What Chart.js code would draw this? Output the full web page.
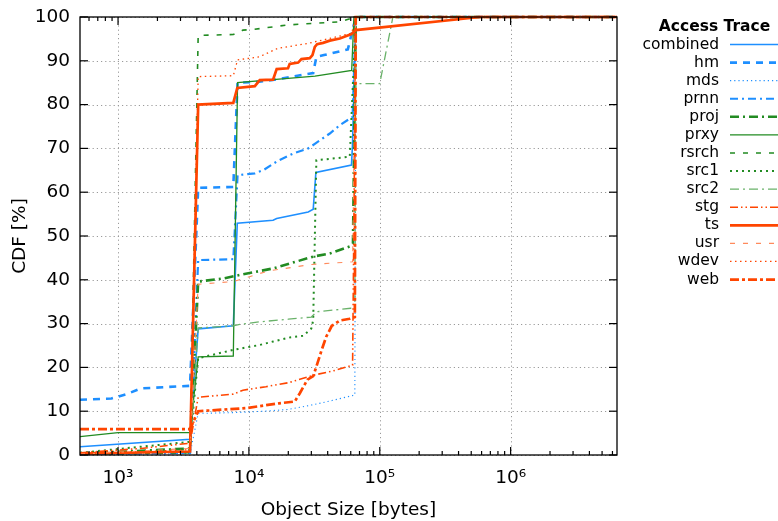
<!DOCTYPE html>
<html><head><meta charset="utf-8">
<script src="https://cdn.jsdelivr.net/npm/chart.js@4.4.1/dist/chart.umd.min.js"></script>
<style>html,body{margin:0;padding:0;background:#fff;}#wrap{width:778px;height:521px;}</style>
</head><body><div id="wrap"><canvas id="c" width="778" height="521"></canvas></div>
<script>
// ---------------- data ----------------
const seriesNames = ['combined','hm','mds','prnn','proj','prxy','rsrch','src1','src2','stg','ts','usr','wdev','web'];
const yTicks = [0,10,20,30,40,50,60,70,80,90,100];
const xTicks = [1e3,1e4,1e5,1e6];
const xTickLabels = ['10\u00B3','10\u2074','10\u2075','10\u2076'];
const xMin = 512, xMax = 6500000;

const combinedSize = [512,3550,4096,7600,8150,15300,16300,28400,31000,32500,60800,61900,65536,6500000];
const combinedCdf  = [1.9,3.6,28.8,29.5,52.9,53.6,54.0,55.5,56.1,64.5,66.2,70.8,100,100];

const hmSize = [512,890,1160,1500,3550,4096,7600,8192,12000,16600,28000,31000,32768,37500,57000,65536,6500000];
const hmCdf  = [12.6,12.9,13.9,15.2,15.8,61.0,61.2,85.0,85.2,85.8,87.0,87.2,90.9,91.3,92.6,100,100];

const mdsSize = [512,3550,4096,8192,13000,20000,30000,40000,55000,64500,65536,6500000];
const mdsCdf  = [0.1,0.3,9.5,9.7,10.0,10.4,11.4,12.2,13.2,13.7,100,100];

const prnnSize = [512,3550,4096,7600,8192,11100,13000,16300,22000,28400,32500,41500,49500,62000,65536,6500000];
const prnnCdf  = [0.2,0.5,44.5,44.7,63.9,64.3,65.1,67.0,68.9,70.0,71.2,73.4,75.3,77.2,100,100];

const projSize = [512,3550,4096,6400,8500,15300,31000,41500,59000,62400,65536,6500000];
const projCdf  = [0.3,1.5,39.6,40.3,41.1,42.6,45.3,46.0,47.6,48.3,100,100];

const prxySize = [512,1000,3550,4096,7600,8192,32000,61000,63500,6500000];
const prxyCdf  = [4.2,5.1,5.1,22.4,22.6,85.0,86.5,87.8,100,100];

const rsrchSize = [512,3550,4096,7600,9000,11000,20000,50000,65536,6500000];
const rsrchCdf  = [0.2,0.5,95.8,96.0,97.0,97.2,98.2,98.9,100,100];

const src1Size = [512,3550,4096,7600,12000,15300,21000,26000,30000,31000,32768,59000,65536,6500000];
const src1Cdf  = [0.5,3.0,22.1,24.0,25.1,25.9,26.9,27.2,28.9,30.8,67.3,68.1,100,100];

const src2Size = [512,3550,4096,7600,8500,12000,20000,30000,33000,60000,64500,65536,100000,126000,6500000];
const src2Cdf  = [0.3,1.0,29.0,29.5,29.8,30.4,31.0,31.5,32.7,33.5,33.5,84.8,84.8,100,100];

const stgSize = [512,1500,3550,4096,7600,9000,13500,20000,26000,32000,44000,62000,65536,6500000];
const stgCdf  = [0.5,1.5,2.7,13.2,13.9,14.8,15.6,16.5,17.5,18.3,19.2,20.5,100,100];

const tsSize = [512,3550,4096,7600,8150,11100,12100,15300,16300,19900,20500,23800,25200,29200,30600,31900,33200,36900,41500,49500,60800,65536,580000,6500000];
const tsCdf  = [0.3,0.8,80.0,80.4,83.8,84.2,85.6,85.7,88.1,88.3,89.3,89.6,90.4,90.6,91.3,93.2,93.8,94.1,94.6,95.1,96.1,97.0,100,100];

const usrSize = [512,3550,4096,7600,14000,30000,62000,65536,6500000];
const usrCdf  = [0.2,1.5,39.0,39.6,42.0,43.5,44.1,100,100];

const wdevSize = [512,3550,4096,7600,8192,12000,16500,28400,41500,61000,65536,6500000];
const wdevCdf  = [0.2,1.2,86.4,86.6,90.2,90.9,92.8,94.0,95.1,96.3,100,100];

const webSize = [512,3550,4096,9500,17000,22400,24500,28000,31000,32800,36000,39000,43000,49500,59000,64500,65536,6500000];
const webCdf  = [5.9,5.9,10.0,10.7,11.8,12.2,14.1,17.2,18.0,20.2,24.0,27.0,29.5,30.7,31.1,31.5,100,100];

const seriesData = {
  combined:[combinedSize,combinedCdf], hm:[hmSize,hmCdf], mds:[mdsSize,mdsCdf], prnn:[prnnSize,prnnCdf],
  proj:[projSize,projCdf], prxy:[prxySize,prxyCdf], rsrch:[rsrchSize,rsrchCdf], src1:[src1Size,src1Cdf],
  src2:[src2Size,src2Cdf], stg:[stgSize,stgCdf], ts:[tsSize,tsCdf], usr:[usrSize,usrCdf],
  wdev:[wdevSize,wdevCdf], web:[webSize,webCdf]
};

// ---------------- styles ----------------
const BLUE = '#1e8fff', GREEN = '#228b22', ORANGE = '#ff4500';
const styles = {
  combined:{c:BLUE, w:1.6, d:[]},
  hm:{c:BLUE, w:2.6, d:[7,6]},
  mds:{c:BLUE, w:1.1, d:[1.2,3]},
  prnn:{c:BLUE, w:2.2, d:[8,4,2,4]},
  proj:{c:GREEN, w:2.6, d:[9,4,2,4]},
  prxy:{c:GREEN, w:1.3, d:[]},
  rsrch:{c:GREEN, w:1.6, d:[5,8]},
  src1:{c:GREEN, w:2.0, d:[2,4]},
  src2:{c:'#6ab26a', w:1.3, d:[9,4,2,4]},
  stg:{c:ORANGE, w:1.6, d:[8,3,1.5,3,1.5,3]},
  ts:{c:ORANGE, w:2.7, d:[]},
  usr:{c:'#ff8a5c', w:1.1, d:[5,8]},
  wdev:{c:ORANGE, w:1.3, d:[1.5,3.5]},
  web:{c:ORANGE, w:2.7, d:[9,3,3,3]}
};
const FONT = '"DejaVu Sans", "Liberation Sans", sans-serif';
const AXIS_SIZE = 18.5;

const datasets = seriesNames.map((n, i) => ({
  label: n,
  data: seriesData[n][0].map((s, k) => ({x: s, y: seriesData[n][1][k]})),
  borderColor: styles[n].c,
  borderWidth: styles[n].w,
  borderDash: styles[n].d,
  pointRadius: 0,
  fill: false,
  tension: 0,
  order: -i,
  clip: 4
}));

function seg(ctx, x1, y1, x2, y2) { ctx.beginPath(); ctx.moveTo(x1, y1); ctx.lineTo(x2, y2); ctx.stroke(); }

const framePlugin = {
  id: 'frame',
  beforeDatasetsDraw(chart) {
    const {ctx, chartArea: a, scales: {x, y}} = chart;
    ctx.save();
    ctx.strokeStyle = '#9a9a9a'; ctx.lineWidth = 1; ctx.setLineDash([1.2, 3]);
    yTicks.forEach(v => { const py = Math.round(y.getPixelForValue(v)) + 0.5; seg(ctx, a.left, py, a.right, py); });
    xTicks.forEach(v => { const px = Math.round(x.getPixelForValue(v)) + 0.5; seg(ctx, px, a.top, px, a.bottom); });
    ctx.restore();
  },
  afterDatasetsDraw(chart) {
    const {ctx, chartArea: a, scales: {x, y}} = chart;
    ctx.save();
    ctx.setLineDash([]);
    ctx.strokeStyle = '#000'; ctx.lineWidth = 1.3;
    ctx.strokeRect(a.left, a.top, a.right - a.left, a.bottom - a.top);
    ctx.lineWidth = 1.2;
    yTicks.forEach(v => { const py = y.getPixelForValue(v);
      seg(ctx, a.left, py, a.left + 8, py); seg(ctx, a.right, py, a.right - 8, py); });
    for (let e = 2; e <= 6; e++) {
      for (let m = 1; m <= 9; m++) {
        const v = m * Math.pow(10, e);
        if (v < xMin || v > xMax) continue;
        const px = x.getPixelForValue(v);
        const L = (m === 1) ? 8 : 4;
        seg(ctx, px, a.bottom, px, a.bottom - L); seg(ctx, px, a.top, px, a.top + L);
      }
    }
    // legend
    ctx.fillStyle = '#000';
    ctx.font = 'bold 15.5px ' + FONT;
    ctx.textAlign = 'center'; ctx.textBaseline = 'middle';
    ctx.fillText('Access Trace', 714.5, 27);
    ctx.font = '15.5px ' + FONT;
    ctx.textAlign = 'right';
    seriesNames.forEach((n, i) => {
      const ly = 44.5 + i * 18.08;
      ctx.fillStyle = '#000';
      ctx.fillText(n, 719, ly);
      const s = styles[n];
      ctx.strokeStyle = s.c; ctx.lineWidth = s.w; ctx.setLineDash(s.d);
      seg(ctx, 730, ly, 780, ly);
    });
    ctx.restore();
  }
};

new Chart(document.getElementById('c'), {
  type: 'line',
  data: {datasets},
  options: {
    responsive: false,
    animation: false,
    devicePixelRatio: 1,
    layout: {padding: {left: 0, right: 161, top: 17, bottom: 0}},
    plugins: {legend: {display: false}, tooltip: {enabled: false}},
    scales: {
      x: {
        type: 'logarithmic', min: xMin, max: xMax,
        grid: {display: false, drawTicks: false}, border: {display: false},
        afterBuildTicks: s => { s.ticks = xTicks.map(v => ({value: v})); },
        afterFit: s => { s.height = 66; s.paddingLeft = 0; s.paddingRight = 0; },
        ticks: {autoSkip: false, maxRotation: 0, padding: 12, color: '#000',
          font: {family: FONT, size: AXIS_SIZE},
          callback: (v, i) => xTickLabels[i]},
        title: {display: true, text: 'Object Size [bytes]', color: '#000',
          font: {family: FONT, size: AXIS_SIZE}, padding: {top: 0, bottom: 0}}
      },
      y: {
        min: 0, max: 100,
        grid: {display: false, drawTicks: false}, border: {display: false},
        afterBuildTicks: s => { s.ticks = yTicks.map(v => ({value: v})); },
        afterFit: s => { s.width = 80; s.paddingTop = 0; s.paddingBottom = 0; },
        ticks: {padding: 10, color: '#000', font: {family: FONT, size: AXIS_SIZE}},
        title: {display: true, text: 'CDF [%]', color: '#000',
          font: {family: FONT, size: AXIS_SIZE}, padding: {top: 9, bottom: 0}}
      }
    }
  },
  plugins: [framePlugin]
});
</script></body></html>
